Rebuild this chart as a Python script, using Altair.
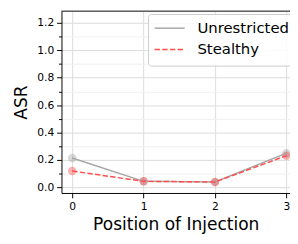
import altair as alt
import pandas as pd

positions = [0, 1, 2, 3]
series_names = ["Unrestricted", "Stealthy"]
unrestricted = [0.215, 0.045, 0.04, 0.25]
stealthy = [0.12, 0.045, 0.04, 0.232]
x_ticks = [0, 1, 2, 3]
y_ticks = [round(i * 0.1, 1) for i in range(13)]

rows = []
for name, vals in zip(series_names, [unrestricted, stealthy]):
    for p, v in zip(positions, vals):
        rows.append({"pos": p, "asr": v, "series": name, "group": name})
df = pd.DataFrame(rows)

FONT = "DejaVu Sans"
W, H = 235, 187

x_enc = alt.X("pos:Q", scale=alt.Scale(domain=[-0.15, 3.05], nice=False, zero=False),
              axis=alt.Axis(values=x_ticks, format="d", title="Position of Injection",
                            tickSize=5, labelPadding=3, titlePadding=5))
y_enc = alt.Y("asr:Q", scale=alt.Scale(domain=[-0.04, 1.285], nice=False, zero=False),
              axis=alt.Axis(values=y_ticks, title="ASR",
                            labelExpr="round(datum.value*10) % 2 == 0 ? format(datum.value, '.1f') : ''",
                            gridColor={"condition": {"test": "round(datum.value*10) % 2 == 1", "value": "#f0f0f0"}, "value": "#dcdcdc"},
                            tickSize={"condition": {"test": "round(datum.value*10) % 2 == 1", "value": 3}, "value": 5},
                            labelPadding=3, titlePadding=6))

common = dict(title=None, orient="none", symbolType="M-2,0H2", symbolSize=240,
              symbolStrokeWidth=1.5, symbolOffset=7.75, labelFontSize=15.3,
              labelFont=FONT, labelColor="black", labelOffset=20, rowPadding=6.5)

legend_a = alt.Legend(legendX=89, legendY=3, padding=6,
                      fillColor="rgba(255,255,255,0.85)", strokeColor="#cccccc",
                      cornerRadius=3, zindex=1, **common)
legend_b = alt.Legend(legendX=93, legendY=29, padding=2, fillColor="white",
                      symbolDash=[5.5, 2.4], zindex=2, **common)

points = alt.Chart(df).mark_circle(size=75, fillOpacity=0.3, strokeWidth=0).encode(
    x=x_enc, y=y_enc,
    fill=alt.Fill("group:N", scale=alt.Scale(domain=series_names, range=["#808080", "#ff0000"]), legend=None),
)

solid = alt.Chart(df).transform_filter(alt.datum.series == "Unrestricted").mark_line(strokeWidth=1.5).encode(
    x=x_enc, y=y_enc,
    color=alt.Color("series:N", scale=alt.Scale(domain=series_names, range=["#a6a6a6", "#ff4d4d"]), legend=legend_a, sort=series_names),
)

dashed = alt.Chart(df).transform_filter(alt.datum.series == "Stealthy").mark_line(strokeWidth=1.5, strokeDash=[5.5, 2.4]).encode(
    x=x_enc, y=y_enc,
    color=alt.Color("series:N", scale=alt.Scale(domain=["Stealthy"], range=["#ff4d4d"]), legend=legend_b),
)

top = alt.Chart(pd.DataFrame({"a": [0]})).mark_rule(color="black", strokeWidth=1).encode(
    x=alt.value(0), x2=alt.value(W), y=alt.value(0)
)

chart = alt.layer(points, solid, dashed, top).resolve_scale(color="independent", fill="independent").properties(
    width=W, height=H,
    autosize=alt.AutoSizeParams(type="none"),
    padding={"left": 55, "top": 0, "right": 0, "bottom": 41},
).configure_view(stroke=None).configure_axis(
    labelFont=FONT, titleFont=FONT, labelFontSize=11, titleFontSize=17.5,
    labelColor="black", titleColor="black", titleFontWeight="normal",
    domainColor="black", tickColor="black", domainWidth=1, grid=True,
    gridColor="#dcdcdc",
)

chart.save("out.html", embed_options={"renderer": "svg", "actions": False})
